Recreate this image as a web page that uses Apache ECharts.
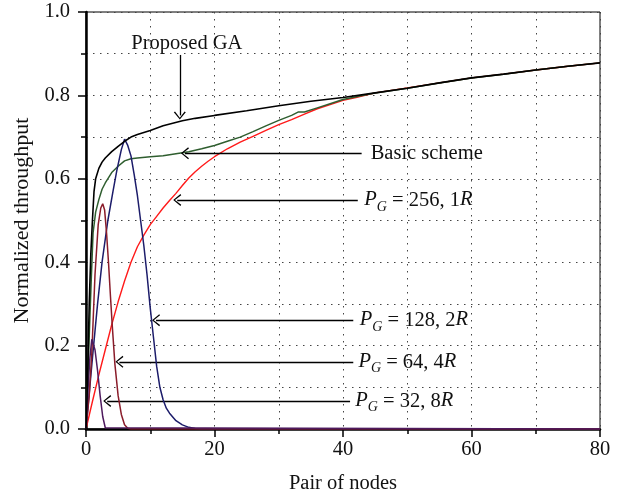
<!DOCTYPE html>
<html><head><meta charset="utf-8">
<script src="https://cdn.jsdelivr.net/npm/echarts@6/dist/echarts.min.js"></script>
<style>html,body{margin:0;padding:0;background:#fff}#c{width:619px;height:496px}</style>
</head><body><div id="c"></div>
<script>
// ---- data ----
const xAxisName = 'Pair of nodes';
const yAxisName = 'Normalized throughput';
const xTicks = [0, 20, 40, 60, 80];
const yTicks = [0.0, 0.2, 0.4, 0.6, 0.8, 1.0];

const gaX = [0,0.25,0.5,0.75,1,1.25,1.5,2,2.5,3,4,5,6,7,8,10,12,15,17,20,25,30,35,40,45,50,55,60,65,70,75,80];
const gaY = [0,0.12,0.30,0.42,0.50,0.57,0.60,0.625,0.64,0.65,0.665,0.678,0.69,0.70,0.706,0.716,0.727,0.739,0.745,0.752,0.763,0.775,0.786,0.795,0.806,0.817,0.83,0.842,0.851,0.861,0.87,0.878];

const basicX = [0,0.5,0.8,1.1,1.5,2,2.5,3,4,5,6,7,8,10,12,14,16,18,20,22,24,26,28,30,32,33,34,36,38,40,43,45,50,55,60,65,70,75,80];
const basicY = [0,0.22,0.35,0.47,0.52,0.55,0.575,0.59,0.615,0.63,0.643,0.648,0.65,0.653,0.655,0.66,0.665,0.672,0.68,0.69,0.70,0.713,0.727,0.74,0.752,0.76,0.76,0.77,0.78,0.79,0.80,0.806,0.817,0.83,0.842,0.851,0.861,0.87,0.878];

const pg256X = [0,1,2,3,4,5,6,7,8,9,10,11,12,13,14,15,16,17,18,19,20,22,24,26,28,30,32,34,36,38,40,42,45,50,55,60,65,70,75,80];
const pg256Y = [0,0.066,0.13,0.19,0.25,0.305,0.355,0.40,0.437,0.465,0.49,0.51,0.53,0.548,0.565,0.584,0.602,0.617,0.63,0.642,0.653,0.672,0.688,0.702,0.716,0.73,0.742,0.755,0.768,0.778,0.788,0.795,0.806,0.818,0.83,0.842,0.851,0.861,0.87,0.878];

const pg128X = [0,1,1.8,2.5,3.4,4.2,4.8,5.5,6,6.5,7,7.5,8,8.5,9,9.5,10,10.5,11,11.5,12,12.5,13,14,15,16,17,18,80];
const pg128Y = [0,0.17,0.30,0.40,0.50,0.57,0.62,0.67,0.695,0.68,0.655,0.61,0.56,0.50,0.44,0.37,0.29,0.22,0.15,0.10,0.07,0.05,0.038,0.02,0.01,0.004,0.001,0,0];

const pg64X = [0,0.5,0.9,1.4,1.9,2.3,2.6,2.9,3.2,3.5,3.8,4.1,4.5,5,5.5,6,6.5,7,80];
const pg64Y = [0,0.08,0.18,0.37,0.49,0.53,0.54,0.525,0.47,0.40,0.32,0.245,0.155,0.08,0.035,0.01,0.002,0,0];

const pg32X = [0,0.3,0.6,0.9,1.1,1.4,1.8,2.2,2.6,3,3.3,80];
const pg32Y = [0,0.09,0.17,0.215,0.218,0.19,0.14,0.08,0.03,0.003,0,0];

// annotation texts
const labelGA = 'Proposed GA';
const labelBasic = 'Basic scheme';
const label256 = '256, 1';
const label128 = '128, 2';
const label64 = '64, 4';
const label32 = '32, 8';

// ---- chart ----
const FONT = 'Liberation Serif';
const FS = 20.5;
const zip = (xs, ys) => xs.map((x, i) => [x, ys[i]]);
const chev = 'path://M5,0 L10,9 L9,10 L5,2.2 L1,10 L0,9 Z';

function arrow(from, to) {
  return [{ coord: from, symbol: 'none' }, { coord: to, symbol: chev, symbolSize: [12, 8] }];
}
function pgLabel(coord, num) {
  return {
    coord: coord, symbol: 'circle', symbolSize: 0,
    label: {
      show: true, position: 'right', distance: 0,
      formatter: '{i|P}{s|G}{n| = ' + num + '}{i|R}',
      rich: {
        i: { fontFamily: FONT, fontSize: FS, fontStyle: 'italic', color: '#111', verticalAlign: 'top', lineHeight: FS },
        s: { fontFamily: FONT, fontSize: 14, fontStyle: 'italic', color: '#111', verticalAlign: 'top', lineHeight: 14, padding: [10, 0, 0, 0] },
        n: { fontFamily: FONT, fontSize: FS, color: '#111', verticalAlign: 'top', lineHeight: FS }
      }
    }
  };
}

const chart = echarts.init(document.getElementById('c'), null, { renderer: 'canvas' });
const axisLabelStyle = { fontFamily: FONT, fontSize: FS, color: '#111' };
const dotted = { color: '#444', type: [1.5, 5.5], width: 1 };

const option = {
  animation: false,
  backgroundColor: '#fff',
  grid: { left: 86, right: 19, top: 12, bottom: 67, show: true, borderColor: '#000', borderWidth: 1, containLabel: false, outerBoundsMode: 'none' },
  xAxis: {
    type: 'value', min: 0, max: 80, interval: 20,
    name: xAxisName, nameLocation: 'middle', nameGap: 44,
    nameTextStyle: { fontFamily: FONT, fontSize: FS, color: '#111' },
    axisLine: { show: true, lineStyle: { color: '#000', width: 2.5 } },
    axisTick: { show: true, length: 8, lineStyle: { color: '#000', width: 1.5 } },
    minorTick: { show: true, splitNumber: 2, length: 5, lineStyle: { color: '#000', width: 1.5 } },
    splitLine: { show: true, lineStyle: dotted },
    minorSplitLine: { show: true, lineStyle: dotted },
    axisLabel: Object.assign({ margin: 10, formatter: v => xTicks.includes(v) ? String(v) : '' }, axisLabelStyle)
  },
  yAxis: {
    type: 'value', min: 0, max: 1, interval: 0.2,
    name: yAxisName, nameLocation: 'middle', nameGap: 50,
    nameTextStyle: { fontFamily: FONT, fontSize: 22, color: '#111' },
    axisLine: { show: true, lineStyle: { color: '#000', width: 2.5 } },
    axisTick: { show: true, length: 8, lineStyle: { color: '#000', width: 1.5 } },
    minorTick: { show: true, splitNumber: 2, length: 5, lineStyle: { color: '#000', width: 1.5 } },
    splitLine: { show: true, lineStyle: dotted },
    minorSplitLine: { show: true, lineStyle: dotted },
    axisLabel: Object.assign({ margin: 16, formatter: v => { const t = yTicks.find(a => Math.abs(a - v) < 1e-9); return t === undefined ? '' : t.toFixed(1); } }, axisLabelStyle)
  },
  series: [
    { name: 'red', type: 'line', data: zip(pg256X, pg256Y), showSymbol: false, lineStyle: { color: '#ff1a1a', width: 1.4 }, z: 3 },
    { name: 'green', type: 'line', data: zip(basicX, basicY), showSymbol: false, lineStyle: { color: '#2f5e2f', width: 1.5 }, z: 4 },
    { name: 'navy', type: 'line', data: zip(pg128X, pg128Y), showSymbol: false, lineStyle: { color: '#1c1c6a', width: 1.5 }, z: 5 },
    { name: 'maroon', type: 'line', data: zip(pg64X, pg64Y), showSymbol: false, lineStyle: { color: '#8a1c2a', width: 1.5 }, z: 6 },
    { name: 'purple', type: 'line', data: zip(pg32X, pg32Y), showSymbol: false, lineStyle: { color: '#4e1a5e', width: 1.5 }, z: 7 },
    {
      name: 'ga', type: 'line', data: zip(gaX, gaY), showSymbol: false, lineStyle: { color: '#000', width: 1.6 }, z: 8,
      markLine: {
        silent: true, animation: false,
        lineStyle: { color: '#000', width: 1.3, type: 'solid' },
        label: { show: false },
        data: [
          arrow([14.6, 0.897], [14.6, 0.752]),
          arrow([42.9, 0.661], [15.4, 0.661]),
          arrow([42.3, 0.549], [14.2, 0.549]),
          arrow([41.6, 0.261], [10.9, 0.261]),
          arrow([41.6, 0.161], [5.2, 0.161]),
          arrow([41.1, 0.067], [3.3, 0.067])
        ]
      },
      markPoint: {
        silent: true, animation: false,
        data: [
          { coord: [15.7, 0.924], symbol: 'circle', symbolSize: 0,
            label: { show: true, position: 'inside', formatter: labelGA, fontFamily: FONT, fontSize: FS, color: '#111' } },
          { coord: [44.3, 0.661], symbol: 'circle', symbolSize: 0,
            label: { show: true, position: 'right', distance: 0, formatter: labelBasic, fontFamily: FONT, fontSize: FS, color: '#111' } },
          pgLabel([43.3, 0.549], label256),
          pgLabel([42.6, 0.261], label128),
          pgLabel([42.4, 0.161], label64),
          pgLabel([41.9, 0.067], label32)
        ]
      }
    }
  ]
};
chart.setOption(option);
</script></body></html>
